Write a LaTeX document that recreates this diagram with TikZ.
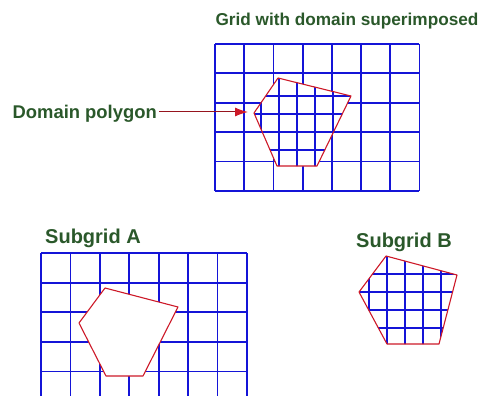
\documentclass[tikz,border=0pt]{standalone}
\usepackage{fontspec}
\setmainfont{Liberation Sans}
\usepackage{tikz}
\usetikzlibrary{arrows.meta,positioning,calc}
\definecolor{gridBlue}{RGB}{20,20,215}
\definecolor{domRed}{RGB}{205,25,40}
\definecolor{ptrRed}{RGB}{150,20,30}
\definecolor{labGreen}{RGB}{42,88,42}

\begin{document}
\begin{tikzpicture}[
  x=1pt,y=-1pt,
  >=Stealth,
  gl/.style={draw=gridBlue,line width=1.8pt},
  fl/.style={draw=gridBlue,line width=1.6pt},
  poly/.style={draw=domRed,line width=1.1pt,line join=round},
  lab/.style={inner sep=0pt,text=labGreen,font=\fontsize{18.4}{20}\selectfont\bfseries},
  ttl/.style={lab,font=\fontsize{17.2}{20}\selectfont\bfseries},
  sub/.style={lab,font=\fontsize{20}{22}\selectfont\bfseries}
]
  \useasboundingbox (0,0) rectangle (480,396);

  % Grid with domain superimposed
  \node[ttl,anchor=base] (toptitle) at (347,26) {Grid with domain superimposed};
  \foreach \i in {0,...,7} {
    \draw[gl] (215+\i*29.2,44) -- ++(0,147);
  }
  \foreach \j in {0,...,5} {
    \draw[gl] (215,44+\j*29.4) -- ++(204.4,0);
  }
  \fill[white] (278,78) -- (351,96) -- (317,166) -- (277,166) -- (254,113) -- cycle;
  \begin{scope}
    \clip (278,78) -- (351,96) -- (317,166) -- (277,166) -- (254,113) -- cycle;
    \foreach \i in {0,...,4} {
      \draw[fl] (261+\i*18,70) -- ++(0,100);
    }
    \foreach \j in {0,...,3} {
      \draw[fl] (245,96+\j*18) -- ++(115,0);
    }
  \end{scope}
  \draw[poly] (278,78) -- (351,96) -- (317,166) -- (277,166) -- (254,113) -- cycle;

  % Domain polygon pointer
  \node[lab,anchor=base east] (dplabel) at (157,118) {Domain polygon};
  \coordinate (dptip) at (248,112);
  \draw[ptrRed,line width=1pt,-{Latex[length=13pt,width=9pt,color=domRed]}]
    ([xshift=2pt]dplabel.east |- dptip) -- (dptip);

  % Subgrid A
  \node[sub,anchor=base west] (labA) at (45,243) {Subgrid A};
  \foreach \i in {0,...,7} {
    \draw[gl] (41+\i*29.4,253) -- ++(0,150);
  }
  \foreach \j in {0,...,4} {
    \draw[gl] (41,253+\j*29.6) -- ++(205.8,0);
  }
  \filldraw[poly,fill=white] (105,288) -- (178,307) -- (143,376) -- (106,376) -- (79,323) -- cycle;

  % Subgrid B
  \node[sub,anchor=base west] (labB) at (356,247) {Subgrid B};
  \begin{scope}
    \clip (386,256) -- (457,275) -- (439,344) -- (387,344) -- (359,292) -- cycle;
    \foreach \i in {0,...,4} {
      \draw[fl] (369+\i*18,250) -- ++(0,100);
    }
    \foreach \j in {0,...,3} {
      \draw[fl] (355,274+\j*18) -- ++(110,0);
    }
  \end{scope}
  \draw[poly] (386,256) -- (457,275) -- (439,344) -- (387,344) -- (359,292) -- cycle;
\end{tikzpicture}
\end{document}
